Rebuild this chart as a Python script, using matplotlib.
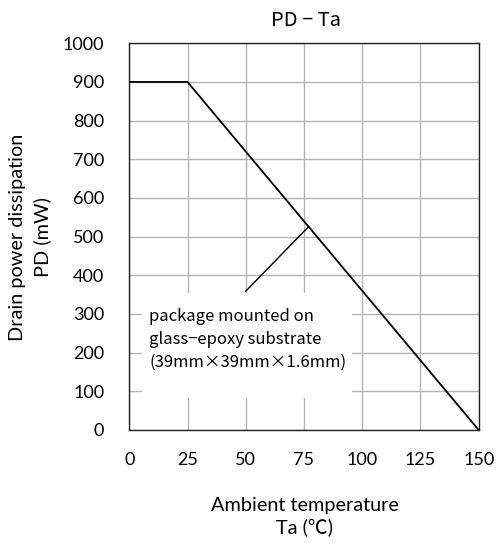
import matplotlib
matplotlib.use("Agg")
import matplotlib.pyplot as plt
from matplotlib.patches import Rectangle

LATIN = ["Lato", "Noto Sans CJK JP", "DejaVu Sans"]
GOTHIC = ["Noto Sans CJK JP", "DejaVu Sans"]
plt.rcParams["font.family"] = LATIN

# derating curve: PD vs Ta
ta = [0, 25, 150]
pd_mw = [900, 900, 0]

x_ticks = [0, 25, 50, 75, 100, 125, 150]
y_ticks = [0, 100, 200, 300, 400, 500, 600, 700, 800, 900, 1000]

note = "package mounted on\nglass\u2212epoxy substrate\n(39mm\u00d739mm\u00d71.6mm)"
leader = [(50, 359), (77, 526)]

W, H = 496, 543
fig = plt.figure(figsize=(W / 100, H / 100), dpi=100)
ax = fig.add_axes([129.3 / W, 1 - 430 / H, 349.4 / W, 386.7 / H])

ax.plot(ta, pd_mw, color="black", lw=1.3, zorder=3)
ax.set_xlim(0, 150)
ax.set_ylim(0, 1000)
ax.set_xticks(x_ticks)
ax.set_yticks(y_ticks)
ax.tick_params(length=0, labelsize=13, colors="black")
ax.tick_params(axis="x", pad=16)
ax.tick_params(axis="y", pad=18)
ax.set_axisbelow(True)
ax.grid(True, color="#b4b4b4", lw=1)
for s in ax.spines.values():
    s.set_color("#222222")
    s.set_linewidth(1)

# white box under the note hides the grid
ax.add_patch(Rectangle((5.6, 83), 90, 271, facecolor="white", edgecolor="none", zorder=1))
ax.text(8.5, 235, note, fontsize=12, va="center", ha="left", linespacing=1.45,
        family=GOTHIC, zorder=2)
ax.plot([leader[0][0], leader[1][0]], [leader[0][1], leader[1][1]], color="black", lw=1, zorder=2)

fig.text(306 / W, 1 - 20 / H, "PD \u2212 Ta", fontsize=14.5, family=GOTHIC, ha="center", va="center")
fig.text(305 / W, 1 - 505 / H, "Ambient temperature", fontsize=14.3, ha="center", va="center")
fig.text(305 / W, 1 - 528 / H, "Ta (\u2103)", fontsize=14.3, ha="center", va="center")
fig.text(18 / W, 1 - 237 / H, "Drain power dissipation", fontsize=14.3, rotation=90, ha="center", va="center")
fig.text(42 / W, 1 - 237 / H, "PD (mW)", fontsize=14.3, rotation=90, ha="center", va="center")

fig.savefig("out.png", dpi=100)
